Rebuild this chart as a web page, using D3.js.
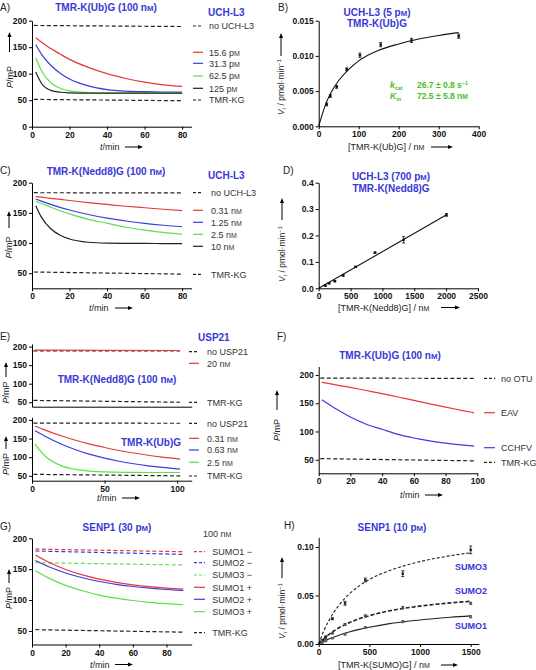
<!DOCTYPE html>
<html><head><meta charset="utf-8">
<script src="https://cdn.jsdelivr.net/npm/d3@7"></script>
<style>body{margin:0;background:#fff}</style>
</head><body>
<script>
// ================= DATA =================
// Panel A: TMR-K(Ub)G + UCH-L3 time courses (P / mP vs t / min)
const tA = [2, 5, 10, 15, 20, 30, 40, 50, 60, 70, 80];
const a_15_6 = [168, 160, 147.5, 137, 127, 112, 100, 91, 84, 79, 76];
const a_31_3 = [155, 137, 116, 101, 90, 77, 70, 67, 66, 65.5, 65.5];
const a_62_5 = [130, 106, 83, 72.5, 67.5, 64.5, 63.5, 63.5, 63.5, 63.5, 63.5];
const a_125 = [103, 82, 68.5, 65, 64, 63.5, 63.5, 63.5, 63.5, 63.5, 63.5];
const tCtlA = [1, 80];
const a_noEnz = [191, 189];
const a_tmrkg = [51.5, 49];

// Panel B: Michaelis-Menten, TMR-K(Ub)G
const bS = [20, 29, 45, 70, 103, 155, 232, 350];
const bV = [0.0031, 0.0043, 0.0056, 0.0081, 0.0101, 0.0116, 0.0122, 0.0128];
const bErr = [0.0002, 0.0002, 0.0002, 0.0002, 0.0003, 0.0003, 0.0003, 0.0003];
const bFitS = [0, 10, 20, 30, 50, 75, 100, 150, 200, 250, 300, 350];
const bFitV = [0, 0.0019, 0.0035, 0.0047, 0.0065, 0.0081, 0.0093, 0.0108, 0.0117, 0.0124, 0.0129, 0.0133];

// Panel C: TMR-K(Nedd8)G + UCH-L3
const tC = [2, 5, 10, 15, 20, 30, 40, 50, 60, 70, 80];
const c_0_31 = [177, 176, 174, 172.5, 170.5, 167, 164, 161, 158.5, 156, 153.8];
const c_1_25 = [173, 169.5, 164, 159, 154.7, 147.3, 141.2, 136.5, 132.6, 129.5, 127];
const c_2_5 = [169, 165.5, 159.3, 153.5, 148.3, 139.3, 133, 126.2, 121.4, 117.6, 114.4];
const c_10 = [162, 143, 123.6, 112.8, 106.7, 101.3, 99.8, 99.5, 99.3, 99.2, 99];
const tCtlC = [1, 80];
const c_noEnz = [183.4, 183];
const c_tmrkg = [52, 48.5];

// Panel D: TMR-K(Nedd8)G kinetics
const dS = [105, 163, 253, 384, 579, 884, 1332, 2005];
const dV = [0.010, 0.019, 0.027, 0.049, 0.081, 0.135, 0.184, 0.278];
const dErr = [0.002, 0.002, 0.002, 0.003, 0.002, 0.002, 0.012, 0.005];
const dFitS = [0, 2000];
const dFitV = [0, 0.2775];

// Panel E: USP21
const tE1 = [2, 102];
const tCtlE = [1, 102];
const e1_noEnz = [188.5, 188.5];
const e1_20nM = [190.5, 189.5];
const e1_tmrkg = [55, 50];
const tE2 = [2, 5, 10, 20, 30, 40, 50, 60, 70, 80, 90, 102];
const e2_0_31 = [183, 179, 171.4, 157.4, 145.4, 134.9, 126, 118, 111.2, 105.3, 100.2, 95];
const e2_0_63 = [171, 164.9, 154, 135.3, 120, 107.5, 97.5, 89.2, 82.5, 77, 72.5, 68.2];
const e2_2_5 = [136, 120.4, 100, 77.5, 67.3, 62.7, 60.6, 59.7, 59.3, 59, 59, 59];
const e2_noEnz = [191.5, 191];
const e2_tmrkg = [54, 50];

// Panel F: OTU domains
const tF = [2, 10, 20, 30, 40, 50, 60, 70, 80, 90, 98];
const f_EAV = [187, 183, 178, 172.5, 167, 161, 155, 149, 143, 137.5, 133];
const f_CCHFV = [156, 141.4, 125.5, 112.8, 103.9, 94.9, 88.5, 83.5, 79.5, 76.3, 74.2];
const tCtlF = [1, 98];
const f_noEnz = [194.5, 194];
const f_tmrkg = [52, 48];

// Panel G: SENP1 time courses
const tG = [2, 10, 20, 30, 40, 50, 60, 70, 80, 90];
const g_sumo1p = [173, 161.2, 149.5, 140.7, 133.9, 128.7, 124.7, 121.7, 119.4, 117.7];
const g_sumo2p = [164, 153.9, 143.8, 136.1, 130, 125.5, 121.9, 119.2, 117.1, 115.5];
const g_sumo3p = [147.4, 135.5, 123.8, 115, 108, 103.1, 99.3, 96.3, 94.1, 92.4];
const tCtlG = [2, 90];
const g_sumo1m = [182.5, 178.3];
const g_sumo2m = [179.4, 174];
const g_sumo3m = [160.5, 156.8];
const g_tmrkg = [52, 48];

// Panel H: SENP1 kinetics
const hS = [17, 35, 70, 135, 260, 460, 830, 1500];
const h_sumo3 = [0.0017, 0.004, 0.0076, 0.026, 0.042, 0.066, 0.0725, 0.097];
const h_sumo3Err = [0.0005, 0.0005, 0.0005, 0.001, 0.002, 0.002, 0.003, 0.004];
const h_sumo2 = [0.001, 0.0025, 0.005, 0.011, 0.020, 0.029, 0.0375, 0.042];
const h_sumo2Err = [0.0003, 0.0003, 0.0003, 0.0005, 0.001, 0.001, 0.001, 0.001];
const h_sumo1 = [0.0007, 0.0015, 0.003, 0.006, 0.010, 0.017, 0.023, 0.028];
const h_sumo1Err = [0.0003, 0.0003, 0.0003, 0.0005, 0.0008, 0.0008, 0.001, 0.001];
const hFitS = [0, 50, 100, 200, 300, 400, 500, 700, 900, 1100, 1300, 1500];
const h_fit3 = [0, 0.0134, 0.0241, 0.0400, 0.0514, 0.0599, 0.0665, 0.0757, 0.0823, 0.0872, 0.0910, 0.0940];
const h_fit2 = [0, 0.0053, 0.0097, 0.0167, 0.0219, 0.0260, 0.0292, 0.0342, 0.0377, 0.0403, 0.0424, 0.0440];
const h_fit1 = [0, 0.0027, 0.0051, 0.0091, 0.0124, 0.0151, 0.0173, 0.0210, 0.0237, 0.0258, 0.0276, 0.0290];

// Tick values
const ticksA_y = [0, 50, 100, 150, 200];
const ticksP_y = [50, 100, 150, 200];
const ticks80 = [0, 20, 40, 60, 80];
const ticks100 = [0, 20, 40, 60, 80, 100];
const ticksE_x = [0, 50, 100];
const ticksB_x = [0, 100, 200, 300, 400];
const ticksB_y = [0, 0.005, 0.010, 0.015];
const ticksD_x = [0, 500, 1000, 1500, 2000, 2500];
const ticksD_y = [0, 0.1, 0.2, 0.3, 0.4];
const ticksH_x = [0, 500, 1000, 1500];
const ticksH_y = [0, 0.05, 0.10];

// ================= DRAWING =================
const svg = d3.select("body").append("svg").attr("width", 536).attr("height", 670).style("display", "block");
const FONT = "'Liberation Sans', Arial, Helvetica, sans-serif";
const RED = "#e8383a", BLUE = "#3c3ce0", GREEN = "#5ee04c", TBLUE = "#3838d6", TGREEN = "#46c026", BLK = "#222";

function rich(sel, str) {
  const re = /([np])M/g; let last = 0, m;
  while ((m = re.exec(str))) {
    if (m.index > last) sel.append("tspan").text(str.slice(last, m.index));
    sel.append("tspan").text(m[1]);
    sel.append("tspan").attr("font-size", "0.78em").text("M");
    last = m.index + 2;
  }
  if (last < str.length) sel.append("tspan").text(str.slice(last));
  return sel;
}
function label(x, y, str, o = {}) {
  const t = svg.append("text").attr("x", x).attr("y", y).attr("font-family", FONT)
    .attr("font-size", o.size || 9).attr("font-weight", o.bold ? "bold" : "normal")
    .attr("fill", o.color || BLK).attr("text-anchor", o.anchor || "start");
  rich(t, str); return t;
}
function styleAxis(g) {
  g.select(".domain").attr("stroke", "#000").attr("stroke-width", 1);
  g.selectAll(".tick line").attr("stroke", "#000");
  g.selectAll(".tick text").attr("font-family", FONT).attr("font-size", 8.5).attr("font-weight", "bold").attr("fill", "#111");
}
function yAxis(ysc, x, ticks, fmt) {
  const g = svg.append("g").attr("transform", `translate(${x},0)`)
    .call(d3.axisLeft(ysc).tickValues(ticks).tickSize(3).tickSizeOuter(0).tickPadding(2).tickFormat(fmt || d3.format("d")));
  styleAxis(g);
}
function xAxis(xsc, y, ticks, fmt) {
  const g = svg.append("g").attr("transform", `translate(0,${y})`)
    .call(d3.axisBottom(xsc).tickValues(ticks).tickSize(3).tickSizeOuter(0).tickPadding(2).tickFormat(fmt || d3.format("d")));
  styleAxis(g);
}
function plotLine(xs, ys, xsc, ysc, color, dash, w) {
  const pts = xs.map((x, i) => [x, ys[i]]);
  svg.append("path").datum(pts)
    .attr("d", d3.line().x(d => xsc(d[0])).y(d => ysc(d[1])).curve(d3.curveMonotoneX))
    .attr("fill", "none").attr("stroke", color).attr("stroke-width", w || 1.2)
    .attr("stroke-dasharray", dash || null);
}
function legendItem(x1, x2, y, color, dash, text, tx) {
  svg.append("line").attr("x1", x1).attr("x2", x2).attr("y1", y).attr("y2", y)
    .attr("stroke", color).attr("stroke-width", 1.2).attr("stroke-dasharray", dash || null);
  label(tx, y + 3.2, text, { size: 9, color: "#333" });
}
function hArrow(x1, x2, y) {
  svg.append("line").attr("x1", x1).attr("x2", x2 - 3).attr("y1", y).attr("y2", y).attr("stroke", "#000").attr("stroke-width", 1);
  svg.append("path").attr("d", `M${x2},${y} l-5,-2 l0,4 z`).attr("fill", "#000");
}
function vArrow(x, y1, y2) {
  svg.append("line").attr("x1", x).attr("x2", x).attr("y1", y1).attr("y2", y2 + 3).attr("stroke", "#000").attr("stroke-width", 1);
  svg.append("path").attr("d", `M${x},${y2} l-2,5 l4,0 z`).attr("fill", "#000");
}
function pLabel(x, yc, a1, a2) {
  const t = svg.append("text").attr("transform", `translate(${x},${yc}) rotate(-90)`).attr("text-anchor", "middle")
    .attr("font-family", FONT).attr("font-size", 9).attr("fill", BLK);
  t.append("tspan").attr("font-style", "italic").text("P");
  t.append("tspan").text("/mP");
  vArrow(x - 3, a1, a2);
}
function vLabel(x, yc, a1, a2) {
  const t = svg.append("text").attr("transform", `translate(${x},${yc}) rotate(-90)`).attr("text-anchor", "middle")
    .attr("font-family", FONT).attr("font-size", 8.5).attr("fill", BLK);
  t.append("tspan").attr("font-style", "italic").text("V");
  t.append("tspan").attr("font-style", "italic").attr("font-size", "0.7em").attr("dy", 2).text("i");
  t.append("tspan").attr("dy", -2).text(" / pmol\u00b7min");
  t.append("tspan").attr("font-size", "0.7em").attr("dy", -3).text("\u22121");
  vArrow(x - 3, a1, a2);
}
function tLabel(x, y, ax1, ax2) {
  const t = svg.append("text").attr("x", x).attr("y", y).attr("font-family", FONT).attr("font-size", 9).attr("fill", BLK);
  t.append("tspan").attr("font-style", "italic").text("t");
  t.append("tspan").text("/min");
  hArrow(ax1, ax2, y - 3);
}
function points(xs, ys, errs, xsc, ysc, color) {
  xs.forEach((x, i) => {
    const cx = xsc(x), cy = ysc(ys[i]);
    if (errs) {
      const e = errs[i];
      const yt = ysc(ys[i] + e), yb = ysc(ys[i] - e);
      svg.append("line").attr("x1", cx).attr("x2", cx).attr("y1", yt).attr("y2", yb).attr("stroke", "#111").attr("stroke-width", 0.8);
      [yt, yb].forEach(yy => svg.append("line").attr("x1", cx - 1.5).attr("x2", cx + 1.5).attr("y1", yy).attr("y2", yy).attr("stroke", "#111").attr("stroke-width", 0.8));
    }
    svg.append("rect").attr("x", cx - 1.2).attr("y", cy - 1.2).attr("width", 2.4).attr("height", 2.4).attr("fill", color || "#111");
  });
}
const DASH = "4,2.5";

// ---------- Panel A ----------
{
  const x = d3.scaleLinear([0, 85], [32, 191.5]);
  const y = d3.scaleLinear([0, 200], [126.7, 20.7]);
  plotLine(tCtlA, a_noEnz, x, y, BLK, DASH);
  plotLine(tCtlA, a_tmrkg, x, y, BLK, DASH);
  plotLine(tA, a_15_6, x, y, RED);
  plotLine(tA, a_31_3, x, y, BLUE);
  plotLine(tA, a_62_5, x, y, GREEN);
  plotLine(tA, a_125, x, y, BLK);
  yAxis(y, 32, ticksA_y); xAxis(x, 126.7, ticks80);
  label(0, 11, "A)", { size: 10 });
  label(106, 11, "TMR-K(Ub)G (100 nM)", { size: 10, bold: true, color: TBLUE, anchor: "middle" });
  label(208, 16, "UCH-L3", { size: 10, bold: true, color: TBLUE });
  legendItem(193, 203, 26, BLK, "3,2", "no UCH-L3", 209);
  legendItem(193, 203, 52.3, RED, null, "15.6 pM", 209);
  legendItem(193, 203, 63.3, BLUE, null, "31.3 pM", 209);
  legendItem(193, 203, 76, GREEN, null, "62.5 pM", 209);
  legendItem(193, 203, 88.3, BLK, null, "125 pM", 209);
  legendItem(193, 203, 100, BLK, "3,2", "TMR-KG", 209);
  pLabel(12.5, 77, 52, 32);
  tLabel(100, 150, 125, 143);
}
// ---------- Panel B ----------
{
  const x = d3.scaleLinear([0, 400], [318.7, 478.7]);
  const y = d3.scaleLinear([0, 0.015], [126.3, 20.7]);
  plotLine(bFitS, bFitV, x, y, "#111", null, 1.1);
  points(bS, bV, bErr, x, y);
  yAxis(y, 318.7, ticksB_y, d3.format(".3f")); xAxis(x, 126.3, ticksB_x);
  label(278, 11, "B)", { size: 10 });
  label(377, 15.5, "UCH-L3 (5 pM)", { size: 10, bold: true, color: TBLUE, anchor: "middle" });
  label(377, 26.5, "TMR-K(Ub)G", { size: 10, bold: true, color: TBLUE, anchor: "middle" });
  const k1 = svg.append("text").attr("x", 390).attr("y", 88).attr("font-family", FONT).attr("font-size", 8.5).attr("font-weight", "bold").attr("fill", TGREEN);
  k1.append("tspan").attr("font-style", "italic").text("k");
  k1.append("tspan").attr("font-size", "0.65em").attr("dy", 2).text("cat");
  const v1 = svg.append("text").attr("x", 417).attr("y", 88).attr("font-family", FONT).attr("font-size", 8.5).attr("font-weight", "bold").attr("fill", TGREEN);
  v1.append("tspan").text("26.7 \u00b1 0.8 s");
  v1.append("tspan").attr("font-size", "0.65em").attr("dy", -3).text("\u22121");
  const k2 = svg.append("text").attr("x", 390).attr("y", 98.5).attr("font-family", FONT).attr("font-size", 8.5).attr("font-weight", "bold").attr("fill", TGREEN);
  k2.append("tspan").attr("font-style", "italic").text("K");
  k2.append("tspan").attr("font-size", "0.65em").attr("dy", 2).text("m");
  label(417, 98.5, "72.5 \u00b1 5.8 nM", { size: 8.5, bold: true, color: TGREEN });
  vLabel(284, 87, 56, 33);
  label(348, 150, "[TMR-K(Ub)G] / nM", { size: 9 });
  hArrow(431, 453, 147);
}
// ---------- Panel C ----------
{
  const x = d3.scaleLinear([0, 85], [32, 191.5]);
  const y = d3.scaleLinear([25, 200], [288.3, 182.7]);
  plotLine(tCtlC, c_noEnz, x, y, BLK, DASH);
  plotLine(tCtlC, c_tmrkg, x, y, BLK, DASH);
  plotLine(tC, c_0_31, x, y, RED);
  plotLine(tC, c_1_25, x, y, BLUE);
  plotLine(tC, c_2_5, x, y, GREEN);
  plotLine(tC, c_10, x, y, BLK);
  yAxis(y, 32, ticksP_y); xAxis(x, 288.3, ticks80);
  label(0, 174, "C)", { size: 10 });
  label(106, 175, "TMR-K(Nedd8)G (100 nM)", { size: 10, bold: true, color: TBLUE, anchor: "middle" });
  label(208, 179, "UCH-L3", { size: 10, bold: true, color: TBLUE });
  legendItem(193, 203, 192.7, BLK, "3,2", "no UCH-L3", 211);
  legendItem(193, 203, 210.3, RED, null, "0.31 nM", 211);
  legendItem(193, 203, 222.3, BLUE, null, "1.25 nM", 211);
  legendItem(193, 203, 234.3, GREEN, null, "2.5 nM", 211);
  legendItem(193, 203, 246.3, BLK, null, "10 nM", 211);
  legendItem(193, 203, 274.3, BLK, "3,2", "TMR-KG", 211);
  pLabel(12, 247.5, 228, 211);
  tLabel(89, 311, 115, 133);
}
// ---------- Panel D ----------
{
  const x = d3.scaleLinear([0, 2500], [318.7, 478]);
  const y = d3.scaleLinear([0, 0.4], [288.3, 182.7]);
  plotLine(dFitS, dFitV, x, y, "#111", null, 1.1);
  points(dS, dV, dErr, x, y);
  yAxis(y, 318.7, ticksD_y, d3.format(".1f")); xAxis(x, 288.3, ticksD_x);
  label(283, 174, "D)", { size: 10 });
  label(391, 180, "UCH-L3 (700 pM)", { size: 10, bold: true, color: TBLUE, anchor: "middle" });
  label(391, 192, "TMR-K(Nedd8)G", { size: 10, bold: true, color: TBLUE, anchor: "middle" });
  vLabel(285, 254, 220, 198);
  label(338, 310.5, "[TMR-K(Nedd8)G] / nM", { size: 9 });
  hArrow(441, 460, 307.5);
}
// ---------- Panel E ----------
{
  const x = d3.scaleLinear([0, 110], [32, 191.7]);
  const y1 = d3.scaleLinear([38, 207], [406.7, 344]);
  const y2 = d3.scaleLinear([37, 207], [480.7, 417.3]);
  plotLine(tCtlE, e1_noEnz, x, y1, BLK, DASH);
  plotLine(tE1, e1_20nM, x, y1, RED);
  plotLine(tCtlE, e1_tmrkg, x, y1, BLK, DASH);
  yAxis(y1, 32, ticksP_y); xAxis(x, 406.7, []);
  plotLine(tCtlE, e2_noEnz, x, y2, BLK, DASH);
  plotLine(tCtlE, e2_tmrkg, x, y2, BLK, DASH);
  plotLine(tE2, e2_0_31, x, y2, RED);
  plotLine(tE2, e2_0_63, x, y2, BLUE);
  plotLine(tE2, e2_2_5, x, y2, GREEN);
  yAxis(y2, 32, ticksP_y); xAxis(x, 480.7, ticksE_x);
  label(0, 340, "E)", { size: 10 });
  label(198, 341, "USP21", { size: 10, bold: true, color: TBLUE });
  label(117, 383, "TMR-K(Nedd8)G (100 nM)", { size: 10, bold: true, color: TBLUE, anchor: "middle" });
  label(181, 445.5, "TMR-K(Ub)G", { size: 10, bold: true, color: TBLUE, anchor: "end" });
  legendItem(189, 199, 351.7, BLK, "3,2", "no USP21", 207);
  legendItem(189, 199, 363.3, RED, null, "20 nM", 207);
  legendItem(189, 199, 402.3, BLK, "3,2", "TMR-KG", 207);
  legendItem(189, 199, 423.3, BLK, "3,2", "no USP21", 207);
  legendItem(189, 199, 438.3, RED, null, "0.31 nM", 207);
  legendItem(189, 199, 450, BLUE, null, "0.63 nM", 207);
  legendItem(189, 199, 462.3, GREEN, null, "2.5 nM", 207);
  legendItem(189, 199, 476, BLK, "3,2", "TMR-KG", 207);
  pLabel(9, 392.5, 377, 362);
  pLabel(9, 464, 449, 436);
  tLabel(97, 501, 122, 140);
}
// ---------- Panel F ----------
{
  const x = d3.scaleLinear([0, 100], [318.7, 477.3]);
  const y = d3.scaleLinear([26, 215], [473.3, 366.5]);
  plotLine(tCtlF, f_noEnz, x, y, BLK, DASH);
  plotLine(tCtlF, f_tmrkg, x, y, BLK, DASH);
  plotLine(tF, f_EAV, x, y, RED);
  plotLine(tF, f_CCHFV, x, y, BLUE);
  yAxis(y, 318.7, ticksP_y); xAxis(x, 473.3, ticks100);
  label(277, 340, "F)", { size: 10 });
  label(390, 359, "TMR-K(Ub)G (100 nM)", { size: 10, bold: true, color: TBLUE, anchor: "middle" });
  legendItem(484, 495, 378.3, BLK, "3,2", "no OTU", 501);
  legendItem(484, 495, 412.7, RED, null, "EAV", 501);
  legendItem(484, 495, 447.7, BLUE, null, "CCHFV", 501);
  legendItem(484, 495, 462.3, BLK, "3,2", "TMR-KG", 501);
  pLabel(280, 430, 410, 390);
  tLabel(400, 498, 425, 443);
}
// ---------- Panel G ----------
{
  const x = d3.scaleLinear([0, 95], [32, 191.7]);
  const y = d3.scaleLinear([28, 200], [644.5, 538.3]);
  plotLine(tCtlG, g_sumo1m, x, y, RED, DASH);
  plotLine(tCtlG, g_sumo2m, x, y, BLUE, DASH);
  plotLine(tCtlG, g_sumo3m, x, y, GREEN, DASH);
  plotLine(tCtlG, g_tmrkg, x, y, BLK, DASH);
  plotLine(tG, g_sumo3p, x, y, GREEN);
  plotLine(tG, g_sumo2p, x, y, BLUE);
  plotLine(tG, g_sumo1p, x, y, RED);
  yAxis(y, 32, ticksP_y); xAxis(x, 644.5, ticks80);
  label(0, 530, "G)", { size: 10 });
  label(117, 530.5, "SENP1 (30 pM)", { size: 10, bold: true, color: TBLUE, anchor: "middle" });
  label(203, 536.5, "100 nM", { size: 9, color: "#333" });
  legendItem(194, 205, 551.7, RED, "3,2", "SUMO1 \u2212", 212.3);
  legendItem(194, 205, 562.7, BLUE, "3,2", "SUMO2 \u2212", 212.3);
  legendItem(194, 205, 575, GREEN, "3,2", "SUMO3 \u2212", 212.3);
  legendItem(194, 205, 587.3, RED, null, "SUMO1 +", 212.3);
  legendItem(194, 205, 599.3, BLUE, null, "SUMO2 +", 212.3);
  legendItem(194, 205, 611.7, GREEN, null, "SUMO3 +", 212.3);
  legendItem(194, 205, 632.7, BLK, "3,2", "TMR-KG", 212.3);
  pLabel(12, 598, 583, 569);
  tLabel(90, 667.5, 115, 133);
}
// ---------- Panel H ----------
{
  const x = d3.scaleLinear([0, 1580], [318.7, 478.8]);
  const y = d3.scaleLinear([0, 0.11], [644, 537.3]);
  plotLine(hFitS, h_fit3, x, y, "#222", "3,2", 1.1);
  plotLine(hFitS, h_fit2, x, y, "#222", "4,2", 1.6);
  plotLine(hFitS, h_fit1, x, y, "#222", null, 1.1);
  points(hS, h_sumo3, h_sumo3Err, x, y, "#222");
  points(hS, h_sumo2, h_sumo2Err, x, y, "#555");
  points(hS, h_sumo1, h_sumo1Err, x, y, "#666");
  yAxis(y, 318.7, ticksH_y, d3.format(".2f")); xAxis(x, 644, ticksH_x);
  label(284, 529, "H)", { size: 10 });
  label(392, 530.5, "SENP1 (10 pM)", { size: 10, bold: true, color: TBLUE, anchor: "middle" });
  label(471, 570, "SUMO3", { size: 9, bold: true, color: TBLUE, anchor: "middle" });
  label(471, 594, "SUMO2", { size: 9, bold: true, color: TBLUE, anchor: "middle" });
  label(471, 629, "SUMO1", { size: 9, bold: true, color: TBLUE, anchor: "middle" });
  vLabel(285, 611, 578, 557);
  label(338, 668, "[TMR-K(SUMO)G] / nM", { size: 9 });
  hArrow(441, 458, 665);
}
</script>
</body></html>
